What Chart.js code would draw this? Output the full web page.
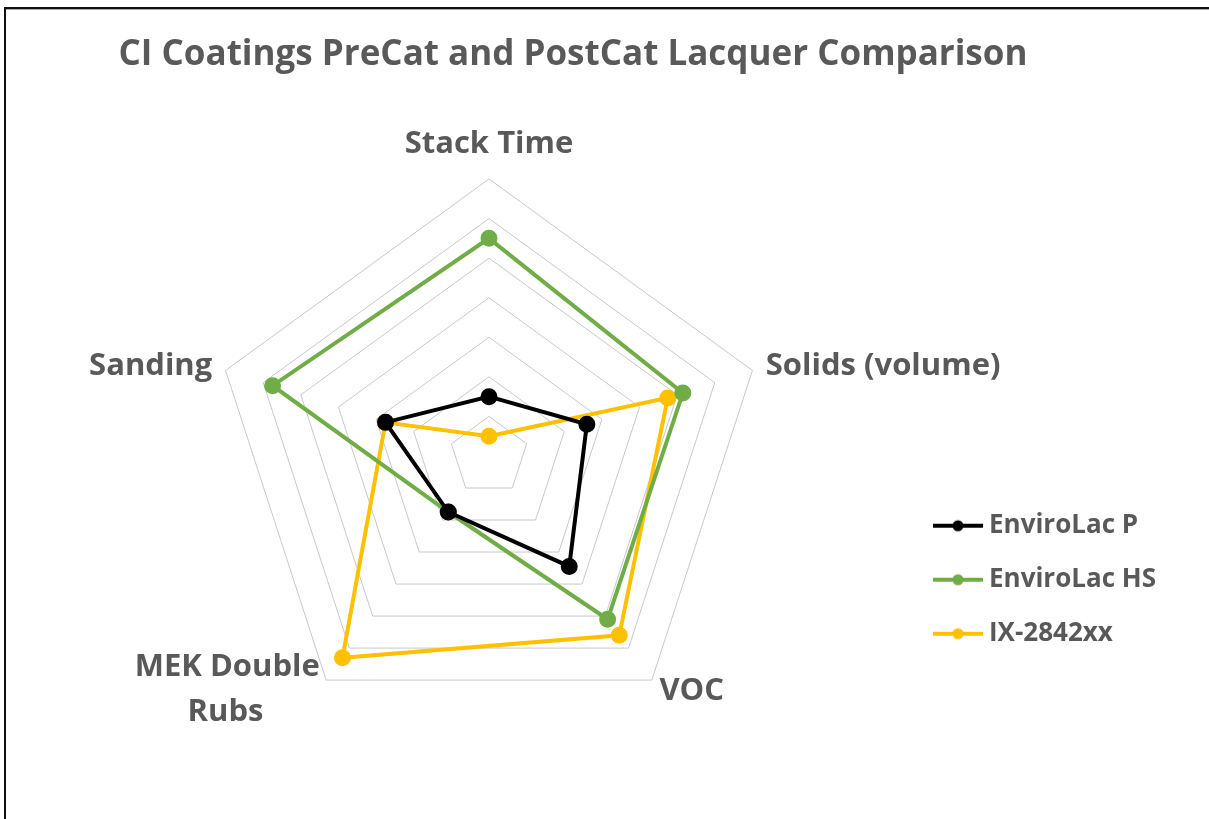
<!DOCTYPE html>
<html>
<head>
<meta charset="utf-8">
<script src="https://cdn.jsdelivr.net/npm/chart.js@4/dist/chart.umd.min.js"></script>
<style>
  html, body { margin: 0; padding: 0; background: #fff; overflow: hidden; }
  body { width: 1209px; height: 819px; position: relative; }
  #frame {
    position: absolute; left: 4px; top: 7px; width: 1220px; height: 830px;
    border-top: 2px solid #111; border-left: 2px solid #111;
    box-shadow: inset 0 1px 0 #aaa;
  }
  #wrap { position: absolute; left: -20px; top: 0; width: 1186px; height: 819px; }
</style>
</head>
<body>
<div id="frame"></div>
<div id="wrap"><canvas id="myChart"></canvas></div>
<script>
(function(){
  'use strict';

  const chartTitle = 'CI Coatings PreCat and PostCat Lacquer Comparison';
  const categories = ['Stack Time', 'Solids (volume)', 'VOC', ['MEK Double', 'Rubs'], 'Sanding'];
  const seriesNames = ['EnviroLac P', 'EnviroLac HS', 'IX-2842xx'];
  const envirolacP = [1.5, 2.6, 3.45, 1.75, 2.75];
  const envirolacHS = [5.5, 5.15, 5.1, 1.75, 5.75];
  const ix2842 = [0.5, 4.75, 5.6, 6.3, 2.75];
  const seriesColors = ['#000000', '#70ad47', '#ffc000'];
  const gridTicks = [0, 1, 2, 3, 4, 5, 6, 7];

  const textGray = '#595959';
  // plot area like the office chart: centre and outer radius in canvas px
  const plotX = 509, plotY = 456, plotR = 277;
  // per category label tweaks (padding from the outer ring, line height)
  const labelPad = [16, 14, 13, -44, 14];
  const labelLineHeight = [1.2, 0.02, 0.02, 1.45, 0.02];
  // trailing spaces so the 2 line label sits centred like the original
  const labelTrail = [[0], [0], [0], [4, 11], [0]];

  // line + dot swatch for the legend
  function makeSwatch(color){
    const c = document.createElement('canvas');
    c.width = 50;
    c.height = 14;
    const g = c.getContext('2d');
    g.strokeStyle = color;
    g.lineWidth = 4;
    g.beginPath();
    g.moveTo(0, 7);
    g.lineTo(50, 7);
    g.stroke();
    g.fillStyle = color;
    g.beginPath();
    g.arc(25, 7, 5.5, 0, Math.PI * 2);
    g.fill();
    return c;
  }

  const allData = [envirolacP, envirolacHS, ix2842];
  const datasets = allData.map(function(vals, i){
    return {
      label: seriesNames[i],
      data: vals,
      borderColor: seriesColors[i],
      backgroundColor: seriesColors[i],
      pointBackgroundColor: seriesColors[i],
      pointBorderColor: seriesColors[i],
      borderWidth: 4,
      pointRadius: 6.5,
      pointHoverRadius: 6.5,
      fill: false,
      tension: 0
    };
  });

  const swatches = seriesColors.map(makeSwatch);

  const ctx = document.getElementById('myChart').getContext('2d');
  const myChart = new Chart(ctx, {
    type: 'radar',
    data: {
      labels: categories,
      datasets: datasets
    },
    options: {
      responsive: true,
      maintainAspectRatio: false,
      animation: false,
      layout: {
        padding: { top: 0, bottom: 30, left: 0, right: 0 }
      },
      scales: {
        r: {
          min: gridTicks[0],
          max: gridTicks[gridTicks.length - 1],
          ticks: { display: false, stepSize: 1 },
          angleLines: { display: false },
          grid: { color: '#c8c8c8', lineWidth: 1 },
          pointLabels: {
            color: textGray,
            padding: function(c){ return labelPad[c.index]; },
            font: function(c){
              return {
                family: '"Open Sans", sans-serif',
                size: 31,
                weight: 'bold',
                lineHeight: labelLineHeight[c.index]
              };
            },
            callback: function(label, i){
              const lines = Array.isArray(label) ? label : [label];
              const out = lines.map(function(s, k){
                return s + '\u00a0'.repeat(labelTrail[i][k] || 0);
              });
              return out.length > 1 ? out : out[0];
            }
          },
          // fixed plot area, labels may run past it like in the original
          afterSetDimensions: function(scale){
            scale.xCenter = plotX;
            scale.yCenter = plotY;
            scale.drawingArea = plotR;
            scale.left = -5000;
            scale.right = 5000;
            scale.top = -5000;
            scale.bottom = 5000;
          }
        }
      },
      plugins: {
        title: {
          display: true,
          text: chartTitle,
          color: textGray,
          font: { family: '"Open Sans", sans-serif', size: 35, weight: 'bold' },
          padding: { top: 34, bottom: 18 }
        },
        tooltip: { enabled: false },
        legend: {
          position: 'right',
          align: 'center',
          title: {
            display: true,
            text: ' ',
            padding: { top: 356, bottom: 0 }
          },
          labels: {
            color: textGray,
            usePointStyle: true,
            pointStyleWidth: 36,
            padding: 28,
            font: { family: '"Open Sans", sans-serif', size: 26, weight: 'bold' },
            generateLabels: function(chart){
              const items = Chart.defaults.plugins.legend.labels.generateLabels(chart);
              items.forEach(function(item, i){
                item.pointStyle = swatches[i];
              });
              return items;
            }
          }
        }
      }
    }
  });
})();
</script>
</body>
</html>
